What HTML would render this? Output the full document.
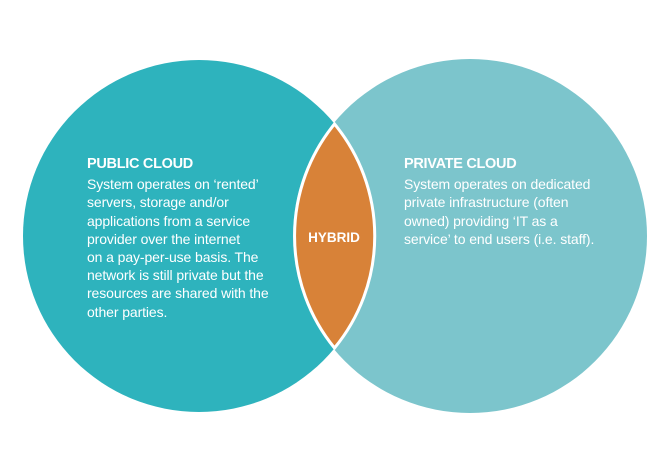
<!DOCTYPE html>
<html><head><style>
html,body{margin:0;padding:0;background:#fff;}
body{width:663px;height:450px;position:relative;overflow:hidden;font-family:"Liberation Sans",sans-serif;color:#fff;}
.t{position:absolute;font-size:14px;line-height:18.2px;letter-spacing:-0.1px;}
.t b{display:block;font-size:14.5px;margin-bottom:2px;letter-spacing:-0.3px;}
</style></head><body>
<svg width="663" height="450" style="position:absolute;left:0;top:0">
<circle cx="199" cy="236" r="176" fill="#2eb3bd"/>
<circle cx="470" cy="236" r="177" fill="#7cc5cc"/>
<path d="M334.5,124 A176,176 0 0 1 334.5,348 A177,177 0 0 1 334.5,124 Z" fill="#d88238" stroke="#fff" stroke-width="3"/>
<text x="334" y="242" font-family="Liberation Sans, sans-serif" font-weight="bold" font-size="13.5" fill="#fff" text-anchor="middle">HYBRID</text>
</svg>
<div class="t" style="left:87px;top:155px;width:230px"><b>PUBLIC CLOUD</b>System operates on ‘rented’<br>servers, storage and/or<br>applications from a service<br>provider over the internet<br>on a pay-per-use basis. The<br>network is still private but the<br>resources are shared with the<br>other parties.</div>
<div class="t" style="left:404px;top:155px;width:230px"><b>PRIVATE CLOUD</b>System operates on dedicated<br>private infrastructure (often<br>owned) providing ‘IT as a<br>service’ to end users (i.e. staff).</div>
</body></html>
